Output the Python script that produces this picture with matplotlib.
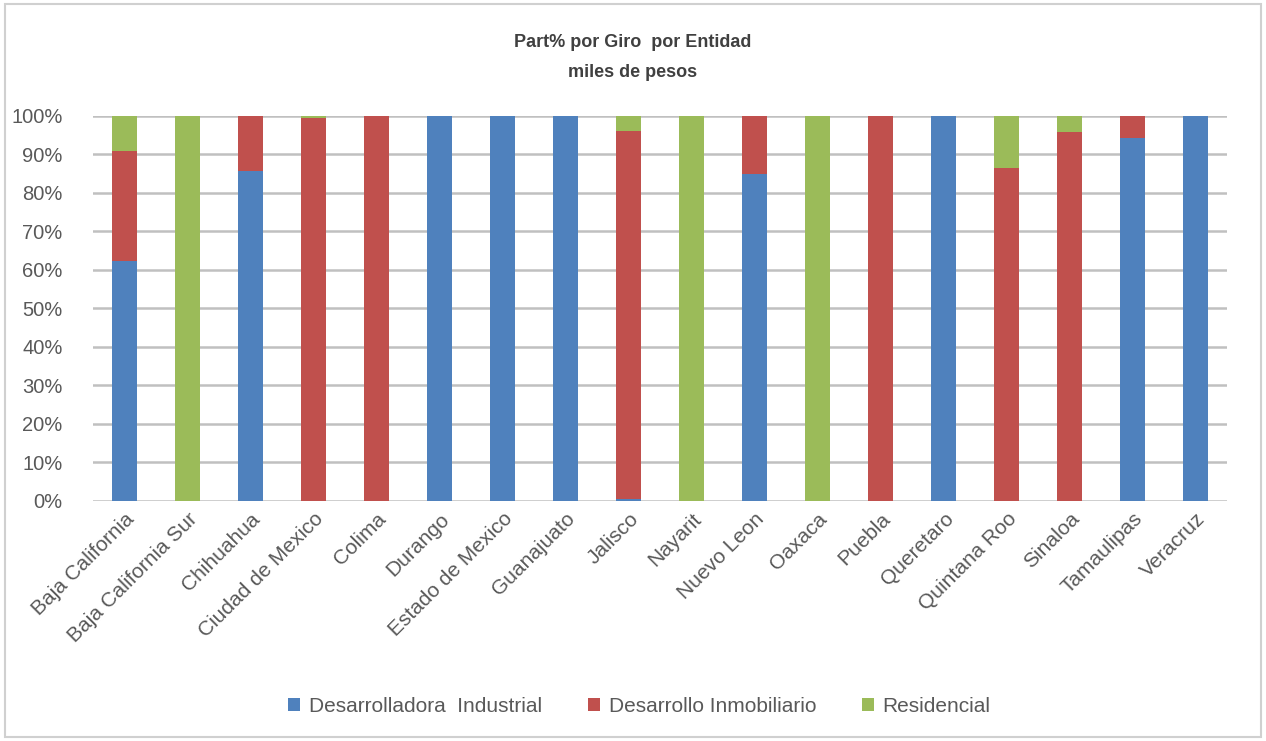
import numpy as np
import matplotlib.pyplot as plt
from matplotlib.patches import Rectangle
from matplotlib.ticker import PercentFormatter

plt.rcParams['font.family'] = ['Liberation Sans', 'DejaVu Sans']

entidades = ['Baja California', 'Baja California Sur', 'Chihuahua', 'Ciudad de Mexico',
             'Colima', 'Durango', 'Estado de Mexico', 'Guanajuato', 'Jalisco', 'Nayarit',
             'Nuevo Leon', 'Oaxaca', 'Puebla', 'Queretaro', 'Quintana Roo', 'Sinaloa',
             'Tamaulipas', 'Veracruz']
industrial = [62.3, 0, 85.6, 0, 0, 100, 100, 100, 0.5, 0, 84.9, 0, 0, 100, 0, 0, 94.2, 100]
inmobiliario = [28.6, 0, 14.4, 99.6, 100, 0, 0, 0, 95.6, 0, 15.1, 0, 100, 0, 86.6, 95.9, 5.8, 0]
residencial = [9.1, 100, 0, 0.4, 0, 0, 0, 0, 3.9, 100, 0, 100, 0, 0, 13.4, 4.1, 0, 0]
series = ['Desarrolladora  Industrial', 'Desarrollo Inmobiliario', 'Residencial']
colores = ['#4f81bd', '#c0504d', '#9bbb59']

fig = plt.figure(figsize=(12.66, 7.41), dpi=100)
ax = fig.add_axes([0.0735, 0.3239, 0.896, 0.5196])

x = np.arange(len(entidades))
bottom = np.zeros(len(entidades))
for vals, name, col in zip([industrial, inmobiliario, residencial], series, colores):
    vals = np.array(vals)
    ax.bar(x, vals, 0.4, bottom=bottom, color=col, label=name, zorder=3)
    bottom += vals

ax.set_xlim(-0.5, len(entidades) - 0.5)
ax.set_ylim(0, 100)
ax.set_yticks(np.arange(0, 101, 10))
ax.yaxis.set_major_formatter(PercentFormatter(decimals=0))
ax.grid(axis='y', color='#c0c0c0', linewidth=1.8, zorder=0)
for s in ax.spines.values():
    s.set_visible(False)
ax.tick_params(length=0, colors='#595959', labelsize=14.5)
ax.tick_params(axis='y', pad=22)
ax.tick_params(axis='x', pad=6)
ax.set_xticks(x)
ax.set_xticklabels(entidades, rotation=45, ha='right', rotation_mode='anchor', fontsize=15)

fig.text(0.5, 0.943, 'Part% por Giro  por Entidad', ha='center', va='center',
         fontsize=13, fontweight='bold', color='#404040')
fig.text(0.5, 0.902, 'miles de pesos', ha='center', va='center',
         fontsize=13, fontweight='bold', color='#404040')

fig.legend(loc='center', bbox_to_anchor=(0.505, 0.047), ncol=3, frameon=False,
           fontsize=15, handlelength=0.6, handleheight=0.6, columnspacing=2.2,
           handletextpad=0.4, labelcolor='#595959')

fig.patches.append(Rectangle((0.004, 0.006), 0.992, 0.988, transform=fig.transFigure,
                             fill=False, edgecolor='#d0d0d0', linewidth=1.5))

fig.savefig('out.png', dpi=100)
